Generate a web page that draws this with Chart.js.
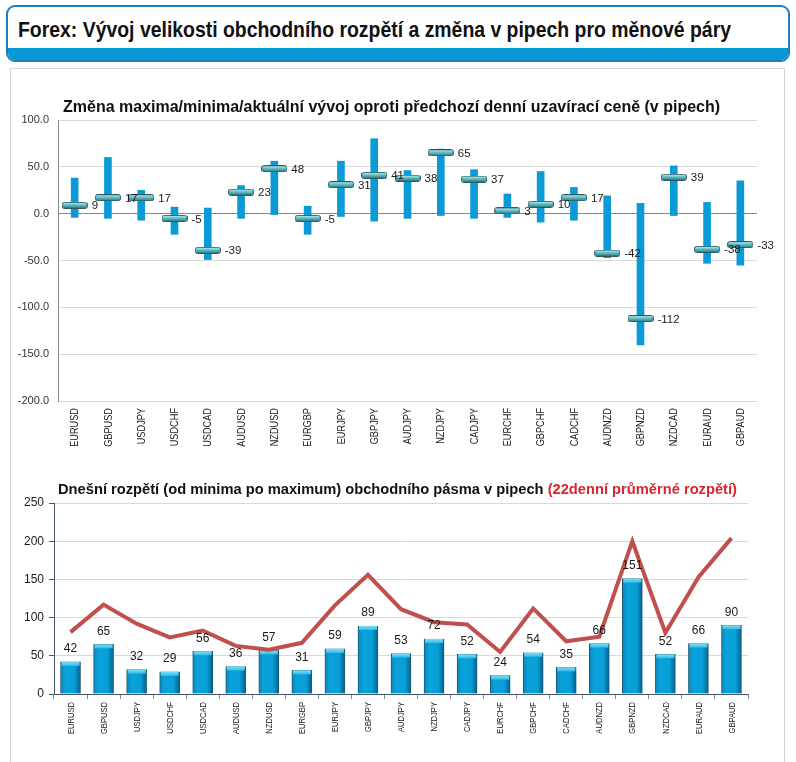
<!DOCTYPE html>
<html>
<head>
<meta charset="utf-8">
<script src="https://cdn.jsdelivr.net/npm/chart.js@4.4.1/dist/chart.umd.min.js"></script>
<style>
    html, body { margin: 0; padding: 0; background: #fff; }
    body { width: 796px; height: 762px; overflow: hidden; position: relative; font-family: "Liberation Sans", Arial, sans-serif; }
    #hdr { position: absolute; left: 6px; top: 5px; width: 780px; height: 53px; border: 2px solid #1f7dbf; border-radius: 9px; overflow: hidden; background: #fff; }
    #hdr .ttl { position: absolute; left: 10px; top: 10px; font-weight: bold; font-size: 22px; color: #111; white-space: nowrap; transform-origin: 0 50%; }
    #hdr .band { position: absolute; left: 0; right: 0; bottom: 0; height: 12px; background: #0996d4; }
    #panel { position: absolute; left: 10px; top: 68px; width: 773px; height: 720px; border: 1px solid #d6d6d6; }
    .ctitle { position: absolute; font-weight: bold; color: #111; white-space: nowrap; }
    #t1 { left: 63px; top: 98px; font-size: 16px; }
    #t2 { left: 58px; top: 481px; font-size: 14.7px; }
    #t2 span { color: #d7262e; }
    .wrap { position: absolute; left: 0; width: 796px; }
    #w1 { top: 90px; height: 380px; }
    #w2 { top: 475px; height: 287px; }
</style>
</head>
<body>
<div id="hdr"><div class="ttl" id="mainTitle">Forex: Vývoj velikosti obchodního rozpětí a změna v pipech pro měnové páry</div><div class="band"></div></div>
<div id="panel"></div>
<div class="wrap" id="w1"><canvas id="rangeChart" width="796" height="380"></canvas></div>
<div class="wrap" id="w2"><canvas id="spreadChart" width="796" height="287"></canvas></div>
<div class="ctitle" id="t1">Změna maxima/minima/aktuální vývoj oproti předchozí denní uzavírací ceně (v pipech)</div>
<div class="ctitle" id="t2">Dnešní rozpětí (od minima po maximum) obchodního pásma v pipech <span>(22denní průměrné rozpětí)</span></div>
<script>
(function () {
    "use strict";

    //------------------------------- data -----------------------------
    var pairs = ['EURUSD', 'GBPUSD', 'USDJPY', 'USDCHF', 'USDCAD', 'AUDUSD', 'NZDUSD', 'EURGBP', 'EURJPY', 'GBPJPY',
        'AUDJPY', 'NZDJPY', 'CADJPY', 'EURCHF', 'GBPCHF', 'CADCHF', 'AUDNZD', 'GBPNZD', 'NZDCAD', 'EURAUD', 'GBPAUD'];

    // změna vůči včerejší uzavírací ceně (pipy)
    var dayLow = [-4, -5, -7, -22, -49, -5, -1, -22, -3, -8, -5, -2, -5, -4, -9, -7, -47, -140, -2, -53, -55];
    var dayHigh = [38, 60, 25, 7, 6, 30, 56, 8, 56, 80, 46, 69, 47, 21, 45, 28, 19, 11, 51, 12, 35];
    var dayNow = [9, 17, 17, -5, -39, 23, 48, -5, 31, 41, 38, 65, 37, 3, 10, 17, -42, -112, 39, -38, -33];
    var changeTicks = [-200, -150, -100, -50, 0, 50, 100];

    // dnešní rozpětí a 22denní průměr
    var todayRange = [42, 65, 32, 29, 56, 36, 57, 31, 59, 89, 53, 72, 52, 24, 54, 35, 66, 151, 52, 66, 90];
    var avgRange22 = [81, 117, 92, 74, 83, 63, 58, 67, 116, 156, 111, 94, 91, 55, 112, 69, 75, 200, 80, 153, 204];
    var rangeTicks = [0, 50, 100, 150, 200, 250];

    var plainFont = '"Liberation Sans", Arial, sans-serif';

    // hlavní nadpis – úzké písmo (Arial Narrow) napodobíme zúžením
    var mt = document.getElementById('mainTitle');
    mt.style.transform = 'scaleX(' + (713 / mt.getBoundingClientRect().width) + ')';

    //------------------------------- marker image -----------------------------
    var marker = document.createElement('canvas');
    marker.width = 26;
    marker.height = 7;
    var mc = marker.getContext('2d');
    var mg = mc.createLinearGradient(0, 0.5, 0, 6.5);
    mg.addColorStop(0, '#d4f4f6');
    mg.addColorStop(0.35, '#6fcad4');
    mg.addColorStop(1, '#2a7c88');
    mc.fillStyle = mg;
    mc.strokeStyle = '#31595c';
    mc.lineWidth = 1;
    mc.beginPath();
    mc.roundRect(0.5, 0.5, 25, 6, 2);
    mc.fill();
    mc.stroke();

    // svislé popisky kategorií, zúžené jako Arial Narrow
    function narrowLabels(size, gap) {
        return {
            id: 'narrowLabels',
            afterDraw: function (chart) {
                var ctx = chart.ctx;
                var sx = chart.scales.x;
                ctx.save();
                ctx.font = size + 'px ' + plainFont;
                ctx.fillStyle = '#1a1a1a';
                ctx.textAlign = 'right';
                ctx.textBaseline = 'middle';
                pairs.forEach(function (lbl, i) {
                    ctx.save();
                    ctx.translate(sx.getPixelForValue(i) + 0.5, sx.top + gap);
                    ctx.rotate(-Math.PI / 2);
                    ctx.scale(0.8, 1);
                    ctx.fillText(lbl, 0, 0);
                    ctx.restore();
                });
                ctx.restore();
            }
        };
    }

    //------------------------------- graf 1 -----------------------------
    var nowLabels = {
        id: 'nowLabels',
        afterDatasetsDraw: function (chart) {
            var ctx = chart.ctx;
            var meta = chart.getDatasetMeta(1);
            ctx.save();
            ctx.font = '11.5px ' + plainFont;
            ctx.fillStyle = '#1a1a1a';
            ctx.textAlign = 'left';
            ctx.textBaseline = 'middle';
            meta.data.forEach(function (pt, i) {
                ctx.fillText(String(dayNow[i]), pt.x + 17, pt.y + 1);
            });
            ctx.restore();
        }
    };

    new Chart(document.getElementById('rangeChart'), {
        type: 'bar',
        data: {
            labels: pairs,
            datasets: [{
                data: dayLow.map(function (v, i) { return [v, dayHigh[i]]; }),
                backgroundColor: '#0b9ad6',
                barThickness: 7,
                borderSkipped: false,
                order: 2
            }, {
                type: 'line',
                data: dayNow,
                showLine: false,
                pointStyle: marker,
                order: 1
            }]
        },
        options: {
            responsive: false,
            animation: false,
            events: [],
            layout: { padding: { top: 30, right: 39, left: 0, bottom: 0 } },
            plugins: { legend: { display: false }, tooltip: { enabled: false } },
            scales: {
                x: {
                    afterFit: function (s) { s.height = 69; },
                    grid: { display: false, drawTicks: false },
                    border: { display: false },
                    ticks: { display: false, autoSkip: false }
                },
                y: {
                    min: -200, max: 100,
                    afterFit: function (s) { s.width = 58; },
                    afterBuildTicks: function (s) { s.ticks = changeTicks.map(function (v) { return { value: v }; }); },
                    grid: {
                        drawTicks: false,
                        color: function (c) { return c.tick && c.tick.value === 0 ? '#8a8a8a' : '#d9d9d9'; }
                    },
                    border: { color: '#8a8a8a' },
                    ticks: {
                        padding: 9, color: '#333',
                        font: { family: plainFont, size: 11 },
                        callback: function (v) { return Number(v).toFixed(1); }
                    }
                }
            }
        },
        plugins: [nowLabels, narrowLabels(11.5, 7)]
    });

    //------------------------------- graf 2 -----------------------------
    var barFill = function (c) {
        var chart = c.chart;
        if (!chart.chartArea || !chart.scales.x) {
            return '#0aa0d8';
        }
        var x = chart.scales.x.getPixelForValue(c.dataIndex);
        var g = chart.ctx.createLinearGradient(x - 10, 0, x + 10, 0);
        g.addColorStop(0, '#0a86bd');
        g.addColorStop(0.25, '#0aa2da');
        g.addColorStop(0.7, '#089fd7');
        g.addColorStop(1, '#06608b');
        return g;
    };

    var barDecor = {
        id: 'barDecor',
        afterDatasetDraw: function (chart, args) {
            if (args.index !== 0) return;
            var ctx = chart.ctx;
            ctx.save();
            args.meta.data.forEach(function (bar) {
                var w = bar.width;
                var g = ctx.createLinearGradient(0, bar.y, 0, bar.y + 5);
                g.addColorStop(0, '#7fdff5');
                g.addColorStop(1, '#22b2e2');
                ctx.fillStyle = g;
                ctx.fillRect(bar.x - w / 2 + 1, bar.y, w - 2, 4);
            });
            ctx.restore();
        },
        afterDatasetsDraw: function (chart) {
            var ctx = chart.ctx;
            var meta = chart.getDatasetMeta(0);
            ctx.save();
            ctx.font = '12px ' + plainFont;
            ctx.fillStyle = '#1a1a1a';
            ctx.textAlign = 'center';
            ctx.textBaseline = 'middle';
            meta.data.forEach(function (bar, i) {
                ctx.fillText(String(todayRange[i]), bar.x, bar.y - 13);
            });
            ctx.restore();
        }
    };

    new Chart(document.getElementById('spreadChart'), {
        type: 'bar',
        data: {
            labels: pairs,
            datasets: [{
                data: todayRange,
                backgroundColor: barFill,
                borderColor: '#1d5873',
                borderWidth: 1,
                borderSkipped: 'bottom',
                barThickness: 20,
                order: 2
            }, {
                type: 'line',
                data: avgRange22,
                borderColor: '#c0504d',
                borderWidth: 4,
                pointRadius: 0,
                tension: 0,
                order: 1
            }]
        },
        options: {
            responsive: false,
            animation: false,
            events: [],
            layout: { padding: { top: 28, right: 48, left: 0, bottom: 0 } },
            plugins: { legend: { display: false }, tooltip: { enabled: false } },
            scales: {
                x: {
                    afterFit: function (s) { s.height = 68; },
                    grid: { drawOnChartArea: false, drawTicks: true, tickLength: 5, tickColor: '#8a8a8a' },
                    border: { color: '#44546a' },
                    ticks: { display: false, autoSkip: false }
                },
                y: {
                    min: 0, max: 250,
                    afterFit: function (s) { s.width = 54; },
                    afterBuildTicks: function (s) { s.ticks = rangeTicks.map(function (v) { return { value: v }; }); },
                    grid: { color: '#d9d9d9', tickColor: '#44546a', tickLength: 5 },
                    border: { color: '#44546a' },
                    ticks: { padding: 5, color: '#1a1a1a', font: { family: plainFont, size: 12 } }
                }
            }
        },
        plugins: [barDecor, narrowLabels(9.5, 8)]
    });
})();
</script>
</body>
</html>
